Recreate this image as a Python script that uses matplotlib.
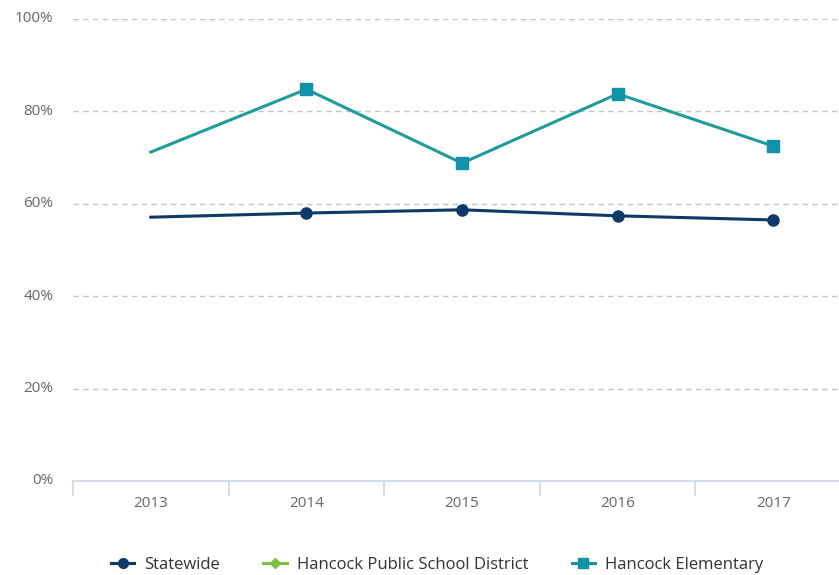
import numpy as np
import matplotlib.pyplot as plt
from matplotlib.lines import Line2D
from matplotlib.ticker import FixedLocator

plt.rcParams['font.family'] = ['Open Sans', 'DejaVu Sans']

years = ['2013', '2014', '2015', '2016', '2017']
statewide = [57.1, 58.0, 58.7, 57.4, 56.5]
district = [np.nan] * 5
elementary = [71.2, 84.8, 68.8, 83.8, 72.5]

navy = '#0d3a66'
green = '#7cc242'
teal_line = '#1e9c9e'
teal_mark = '#1092a8'

W, H = 839, 575
fig = plt.figure(figsize=(W / 100, H / 100), dpi=100)
ax = fig.add_axes([73 / W, (H - 481) / H, (851 - 73) / W, (481 - 19) / H])

x = np.arange(len(years))
ax.plot(x, statewide, color=navy, lw=2.2, marker='o', ms=8,
        markevery=[1, 2, 3, 4], zorder=3)
ax.plot(x, district, color=green, lw=2.2, marker='D', ms=6, zorder=3)
ax.plot(x, elementary, color=teal_line, lw=2.2, marker='s', ms=8,
        mfc=teal_mark, mec=teal_mark, markevery=[1, 2, 3, 4], zorder=3)

ax.set_xlim(-0.5, len(years) - 0.5)
ax.set_ylim(0, 100)
ax.set_yticks([0, 20, 40, 60, 80, 100])
ax.set_yticklabels([f'{v}%' for v in [0, 20, 40, 60, 80, 100]])
ax.set_xticks(x)
ax.set_xticklabels(years)
ax.xaxis.set_minor_locator(FixedLocator(np.arange(-0.5, len(years), 1.0)))

for v in [20, 40, 60, 80, 100]:
    ax.axhline(v, color='#c4c4c4', lw=1, ls=(0, (4, 3)), zorder=1)

for s in ['top', 'right', 'left']:
    ax.spines[s].set_visible(False)
ax.spines['bottom'].set_color('#ccd6eb')
ax.spines['bottom'].set_linewidth(1.2)

ax.tick_params(axis='y', length=0, pad=14, labelsize=11, labelcolor='#666666')
ax.tick_params(axis='x', which='major', length=0, pad=11, labelsize=11,
               labelcolor='#666666')
ax.tick_params(axis='x', which='minor', length=11, width=1.2, color='#ccd6eb',
               direction='out')
for lab in ax.get_yticklabels():
    lab.set_va('center')

handles = [
    Line2D([], [], color=navy, lw=2.2, marker='o', ms=7),
    Line2D([], [], color=green, lw=2.2, marker='D', ms=5),
    Line2D([], [], color=teal_mark, lw=2.2, marker='s', ms=7),
]
labels = ['Statewide', 'Hancock Public School District', 'Hancock Elementary']
fig.legend(handles, labels, loc='center', bbox_to_anchor=(437 / W, 1 - 565 / H),
           ncol=3, frameon=False, fontsize=12, handlelength=1.4,
           handletextpad=0.6, columnspacing=2.6, labelcolor='#333333')

fig.savefig('out.png', dpi=100)
